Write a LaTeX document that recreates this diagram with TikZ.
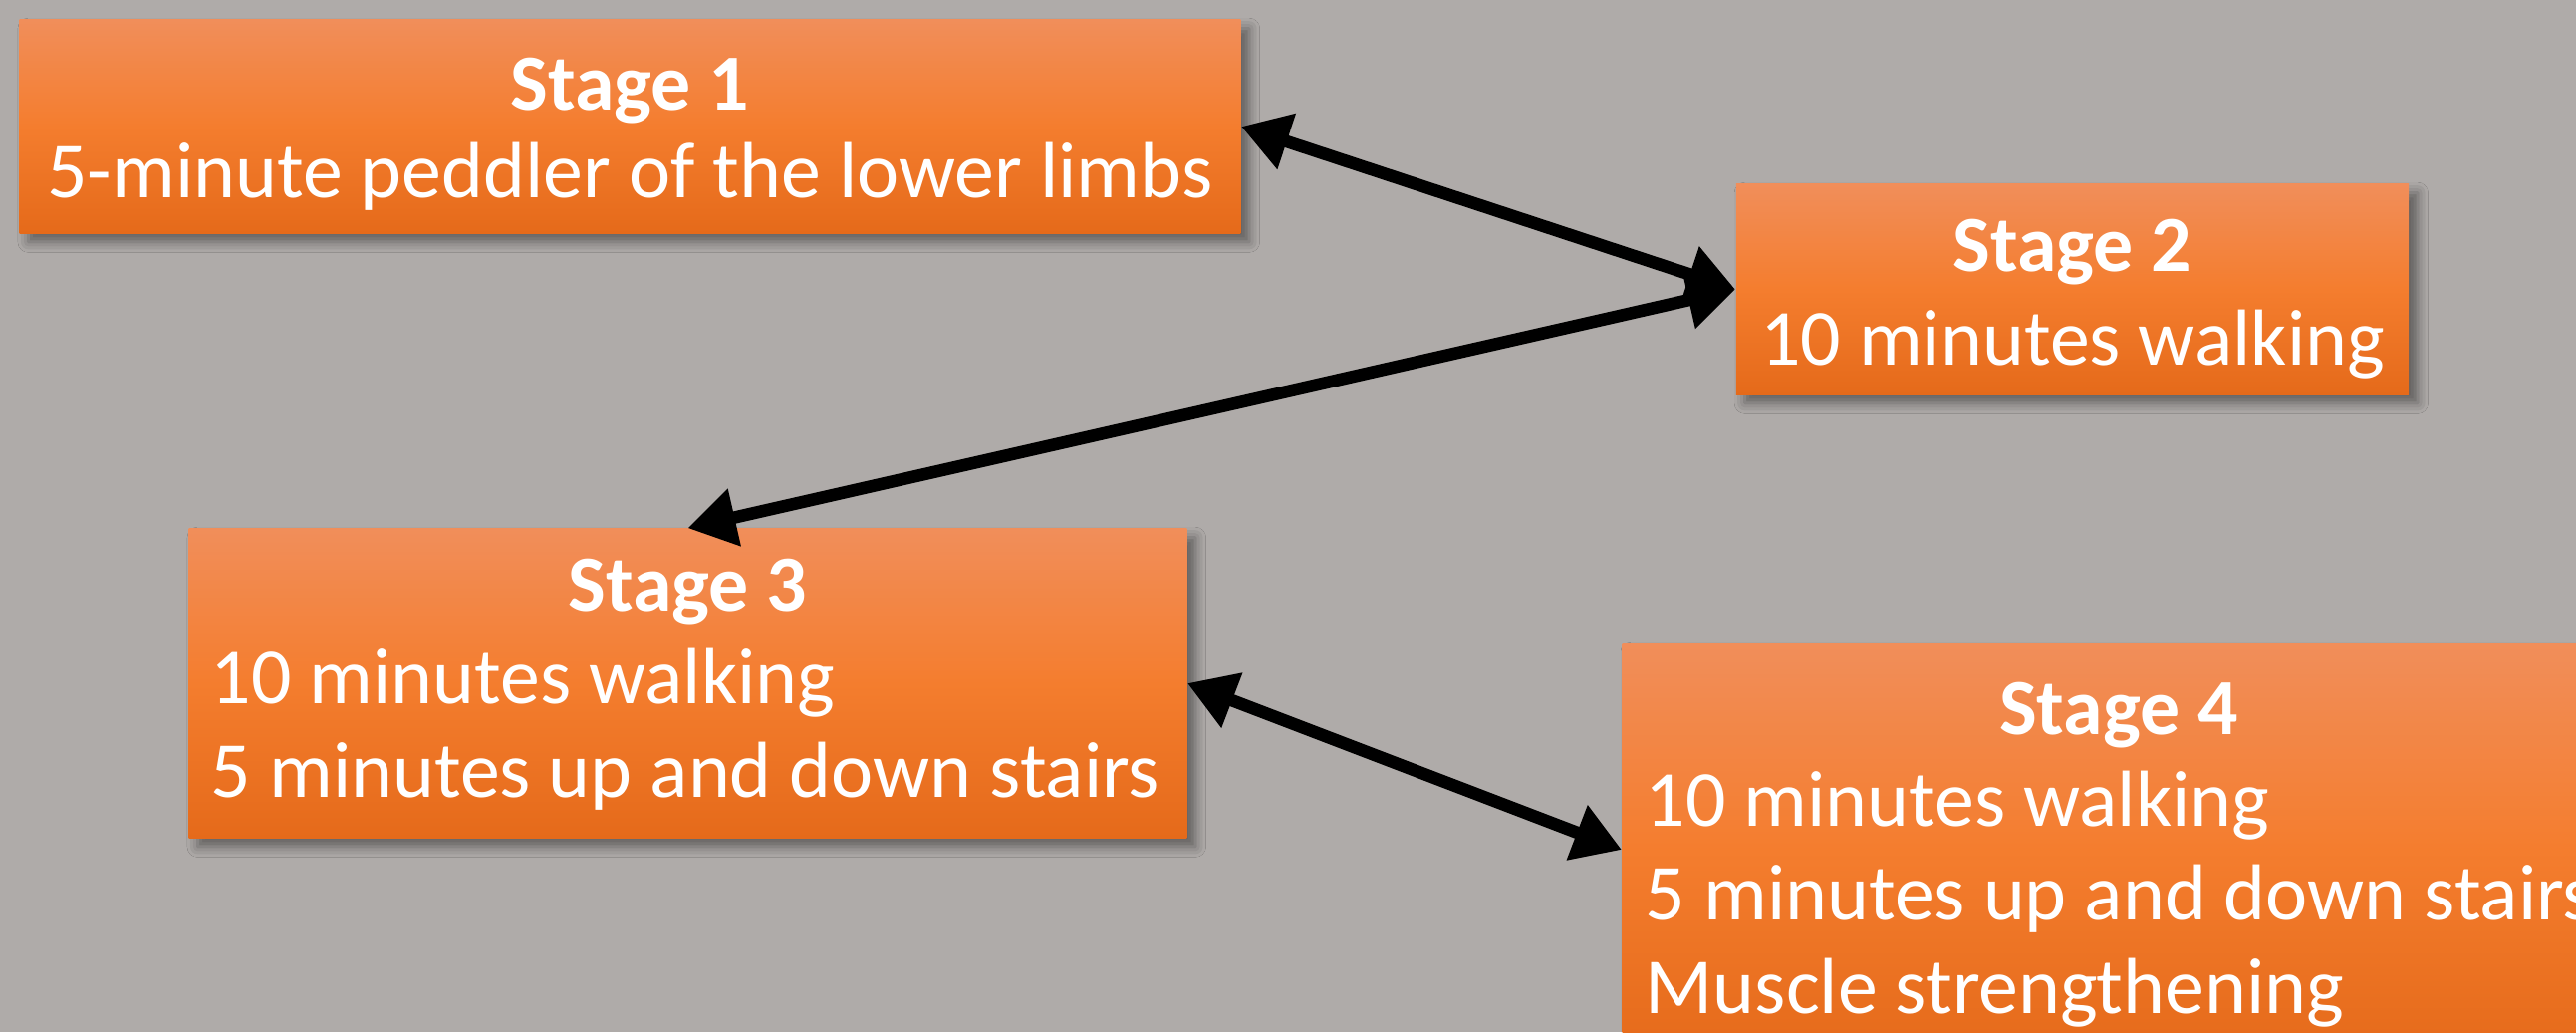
\documentclass[tikz,border=0pt]{standalone}
\usepackage{fontspec}
\setmainfont{Carlito}
\usetikzlibrary{arrows.meta,shadows.blur}
\definecolor{bg}{RGB}{175,171,169}
\definecolor{otop}{RGB}{241,142,90}
\definecolor{omid}{RGB}{244,125,46}
\definecolor{obot}{RGB}{229,106,26}
\tikzset{
  stagebox/.style={rectangle, inner sep=0pt, draw=none,
    top color=otop, bottom color=obot, middle color=omid,
    blur shadow={shadow xshift=2.5pt, shadow yshift=-2.5pt, shadow blur radius=3pt, shadow opacity=45}},
  ttl/.style={inner sep=0pt, text=white, font=\fontsize{22.7}{27}\selectfont\bfseries},
  bodytxt/.style={inner sep=0pt, text=white, font=\fontsize{22.7}{27}\selectfont},
  conn/.style={line width=0.125cm, black,
    {Triangle[length=0.48cm,width=0.56cm]}-{Triangle[length=0.48cm,width=0.56cm]}}
}
\begin{document}
\begin{tikzpicture}[x=0.01cm,y=-0.01cm]
\useasboundingbox (0,0) rectangle (2586,1036);
\clip (0,0) rectangle (2586,1036);
\fill[bg] (0,0) rectangle (2586,1036);
% boxes
\node[stagebox, minimum width=12.25cm, minimum height=2.14cm] (s1) at (632.5,127) {};
\node[stagebox, minimum width=6.75cm, minimum height=2.11cm] (s2) at (2080.5,290.5) {};
\node[stagebox, minimum width=10.01cm, minimum height=3.10cm] (s3) at (690.5,686) {};
\node[stagebox, minimum width=9.96cm, minimum height=4.14cm] (s4) at (2127,853) {};
% texts
\node[ttl, anchor=base] (s1t) at (632.5,110) {Stage 1};
\node[bodytxt, anchor=base] (s1b) at (632.5,198) {5-minute peddler of the lower limbs};
\node[ttl, anchor=base] (s2t) at (2080.5,272) {Stage 2};
\node[bodytxt, anchor=base] (s2b) at (2080.5,366) {10 minutes walking};
\node[ttl, anchor=base] (s3t) at (690.5,613) {Stage 3};
\node[bodytxt, anchor=base west] (s3a) at (211,706) {10 minutes walking};
\node[bodytxt, anchor=base west] (s3b) at (211,800) {5 minutes up and down stairs};
\node[ttl, anchor=base] (s4t) at (2127,737) {Stage 4};
\node[bodytxt, anchor=base west] (s4a) at (1651,829) {10 minutes walking};
\node[bodytxt, anchor=base west] (s4b) at (1651,923) {5 minutes up and down stairs};
\node[bodytxt, anchor=base west] (s4c) at (1651,1017) {Muscle strengthening};
% connectors
\draw[conn] (s1.east) -- (s2.west);
\draw[conn] (s2.west) -- (s3.north);
\draw[conn] (s3.east) -- (s4.west);
\end{tikzpicture}
\end{document}
